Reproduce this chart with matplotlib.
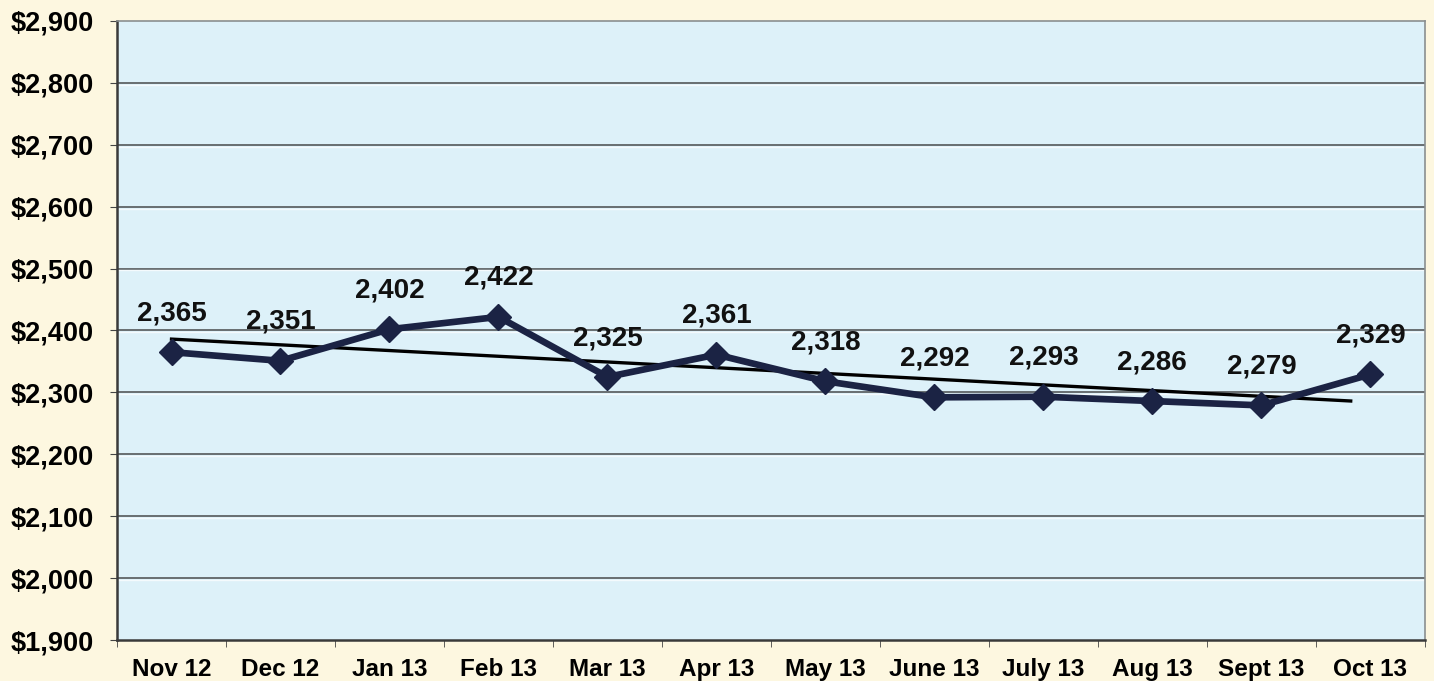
import numpy as np
import matplotlib.pyplot as plt
from matplotlib.ticker import FuncFormatter, MultipleLocator

months = ["Nov 12", "Dec 12", "Jan 13", "Feb 13", "Mar 13", "Apr 13",
          "May 13", "June 13", "July 13", "Aug 13", "Sept 13", "Oct 13"]
values = [2365, 2351, 2402, 2422, 2325, 2361, 2318, 2292, 2293, 2286, 2279, 2329]

plt.rcParams['font.family'] = ['Liberation Sans', 'DejaVu Sans']
plt.rcParams['font.weight'] = 'bold'

fig = plt.figure(figsize=(14.34, 6.81), dpi=100, facecolor='#fdf7e0')
ax = fig.add_axes([0.0816, 0.0602, 0.912, 0.909])
ax.set_facecolor('#ddf1f9')

x = np.arange(len(months))

# grid lines (dark line with a light highlight under it)
ax.set_ylim(1900, 2900)
ax.set_xlim(-0.5, len(months) - 0.5)
for yv in range(2000, 2900, 100):
    ax.axhline(yv, color='#5e6466', lw=1.3, zorder=1)
    ax.axhline(yv - 3, color='#ffffff', lw=1.0, alpha=0.7, zorder=1)

# linear trend
k, b = np.polyfit(x, values, 1)
ax.plot([x[0], x[-1] - 0.18], [b, k * (x[-1] - 0.18) + b], color='black', lw=2.4, zorder=3)

ax.plot(x, values, color='#1b2344', lw=4.8, marker='D', ms=13.5, zorder=4)

for xi, v in zip(x, values):
    ax.annotate(f"{v:,}", (xi, v), xytext=(0, 28), textcoords='offset points',
                ha='center', va='center', fontsize=20, fontweight='bold', color='#111111')

ax.set_xticks(x)
ax.set_xticklabels(months)
ax.set_xticks(np.arange(-0.5, len(months), 1), minor=True)
ax.yaxis.set_major_locator(MultipleLocator(100))
ax.yaxis.set_major_formatter(FuncFormatter(lambda v, p: f"${v:,.0f}"))
ax.tick_params(axis='x', which='major', length=0, pad=13, labelsize=17.5)
ax.tick_params(axis='x', which='minor', length=5, direction='out', color='#444444')
ax.tick_params(axis='y', length=5, direction='out', color='#444444', labelsize=19.5, pad=12)

for side in ['left', 'bottom']:
    ax.spines[side].set_color('#3a3a3a')
    ax.spines[side].set_linewidth(1.8)
for side in ['top', 'right']:
    ax.spines[side].set_color('#8a8f90')
    ax.spines[side].set_linewidth(1.2)

fig.savefig('out.png', dpi=100, facecolor=fig.get_facecolor())
